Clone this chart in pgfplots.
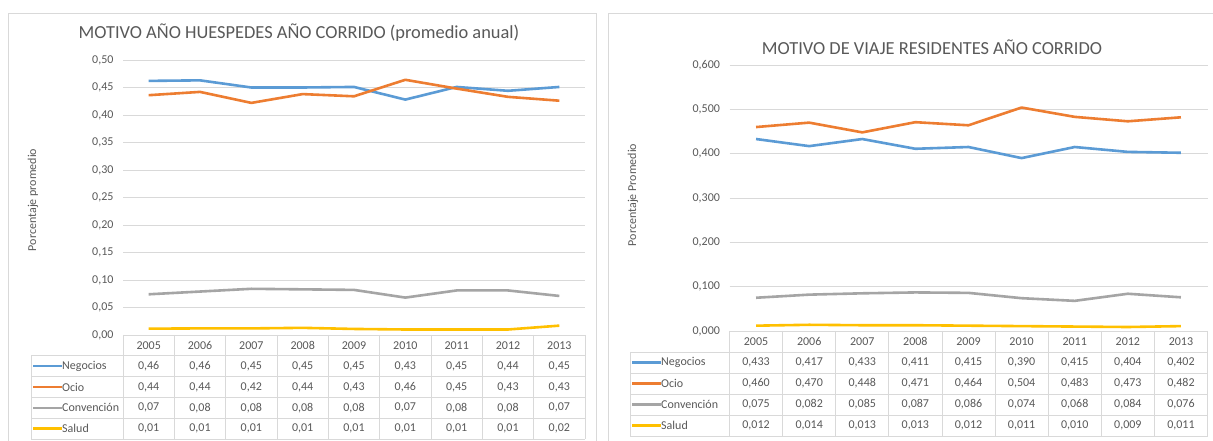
\documentclass[border=0pt]{standalone}
\usepackage{pgfplots}
\usepackage{pgfplotstable}
\pgfplotsset{compat=1.18}
\usepackage{fontspec}
\setmainfont{Carlito}
\definecolor{cneg}{HTML}{5B9BD5}
\definecolor{cocio}{HTML}{ED7D31}
\definecolor{cconv}{HTML}{A5A5A5}
\definecolor{csal}{HTML}{FFC000}
\definecolor{tgray}{HTML}{595959}
\definecolor{gridc}{HTML}{D9D9D9}
\definecolor{framec}{HTML}{D9D9D9}

\pgfkeys{/pgf/number format/assume math mode=true}

\pgfplotstableread{
x neg ocio conv sal
0 0.462 0.436 0.074 0.0115
1 0.463 0.442 0.079 0.012
2 0.450 0.422 0.084 0.012
3 0.450 0.438 0.083 0.013
4 0.451 0.434 0.082 0.011
5 0.428 0.464 0.068 0.010
6 0.451 0.448 0.081 0.010
7 0.444 0.433 0.081 0.010
8 0.451 0.426 0.071 0.017
}\huesp

\pgfplotstableread{
x neg ocio conv sal
0 0.433 0.460 0.075 0.012
1 0.417 0.470 0.082 0.014
2 0.433 0.448 0.085 0.013
3 0.411 0.471 0.087 0.013
4 0.415 0.464 0.086 0.012
5 0.390 0.504 0.074 0.011
6 0.415 0.483 0.068 0.010
7 0.404 0.473 0.084 0.009
8 0.402 0.482 0.076 0.011
}\resid

\newcommand{\fs}{\fontsize{12}{14}\selectfont}

% #1 table, #2 x0 of data columns, #3 column width, #4 top y, #5 row height, #6 left x of legend column, #7 precision
\newcommand{\datatable}[7]{%
  \pgfmathsetmacro\xend{#2+9*#3}%
  \begin{scope}[gridc, line width=0.75pt]
    \draw (#2,#4) -- (\xend,#4);
    \foreach \r in {1,...,5}{\draw ({#6},{#4-\r*#5}) -- ({\xend},{#4-\r*#5});}
    \draw ({#6},{#4-#5}) -- ({#6},{#4-5*#5});
    \foreach \c in {0,...,9}{\draw ({#2+\c*#3},{#4}) -- ({#2+\c*#3},{#4-5*#5});}
  \end{scope}
  \foreach \c in {0,...,8}{%
    \pgfmathtruncatemacro\yr{2005+\c}%
    \node[text=tgray, font=\fs] at ({#2+(\c+0.5)*#3},{#4-0.5*#5}) {\yr};}
  \foreach \col/\name/\colr [count=\k] in {neg/Negocios/cneg, ocio/Ocio/cocio, conv/Convención/cconv, sal/Salud/csal}{%
    \draw[\colr, line width=2.5pt] ({#6+2},{#4-(\k+0.5)*#5}) -- ++(29,0);
    \node[anchor=west, text=tgray, font=\fs, inner sep=0pt] at ({#6+31},{#4-(\k+0.5)*#5}) {\name};
    \foreach \c in {0,...,8}{%
      \pgfplotstablegetelem{\c}{\col}\of#1%
      \node[text=tgray, font=\fs] at ({#2+(\c+0.5)*#3},{#4-(\k+0.5)*#5})
        {\pgfmathprintnumber[fixed, zerofill, precision=#7, use comma]{\pgfplotsretval}};
    }
  }
}

\pgfplotsset{ex/.style={
  scale only axis, clip=false,
  axis line style={draw=none},
  xmin=-0.5, xmax=8.5, xtick=\empty,
  ymajorgrids, grid style={gridc, line width=0.75pt},
  major tick length=0pt, tick style={draw=none},
  yticklabel style={font=\fs, text=tgray, xshift=-6pt},
  every axis plot/.append style={line width=2.6pt, line join=round, mark=none},
}}

\begin{document}
\begin{tikzpicture}[x=1pt,y=1pt]
\useasboundingbox (0,0) rectangle (1213,441);
\fill[white] (0,0) rectangle (1213,441);
% frames
\draw[framec, line width=0.75pt] (8,-5) -- (8,428) -- (596,428) -- (596,-5);
\draw[framec, line width=0.75pt] (608,-5) -- (608,428) -- (1220,428);

% ---------- left chart ----------
\begin{axis}[ex, at={(123pt,106pt)}, anchor=south west,
  width=462pt, height=275pt, ymin=0, ymax=0.5,
  ytick={0,0.05,0.1,0.15,0.2,0.25,0.3,0.35,0.4,0.45,0.5},
  yticklabel style={/pgf/number format/.cd, fixed, zerofill, precision=2, use comma, assume math mode=true}]
\addplot[cneg] table[x=x, y=neg] {\huesp};
\addplot[cocio] table[x=x, y=ocio] {\huesp};
\addplot[cconv] table[x=x, y=conv] {\huesp};
\addplot[csal] table[x=x, y=sal] {\huesp};
\end{axis}
\datatable{\huesp}{123}{51.333}{106}{20.8}{31}{2}
\node[text=tgray, font=\fontsize{18.4}{22}\selectfont] at (299,408) {MOTIVO AÑO HUESPEDES AÑO CORRIDO (promedio anual)};
\node[text=tgray, font=\fs, rotate=90] at (33,241) {Porcentaje promedio};

% ---------- right chart ----------
\begin{axis}[ex, at={(729.5pt,110pt)}, anchor=south west,
  width=478pt, height=266pt, ymin=0, ymax=0.6,
  ytick={0,0.1,0.2,0.3,0.4,0.5,0.6},
  yticklabel style={/pgf/number format/.cd, fixed, zerofill, precision=3, use comma, assume math mode=true}]
\addplot[cneg] table[x=x, y=neg] {\resid};
\addplot[cocio] table[x=x, y=ocio] {\resid};
\addplot[cconv] table[x=x, y=conv] {\resid};
\addplot[csal] table[x=x, y=sal] {\resid};
\end{axis}
\datatable{\resid}{729.5}{53.111}{110}{21}{630}{3}
\node[text=tgray, font=\fontsize{18.4}{22}\selectfont] at (932,394) {MOTIVO DE VIAJE RESIDENTES AÑO CORRIDO};
\node[text=tgray, font=\fs, rotate=90] at (633,246) {Porcentaje Promedio};
\end{tikzpicture}
\end{document}
